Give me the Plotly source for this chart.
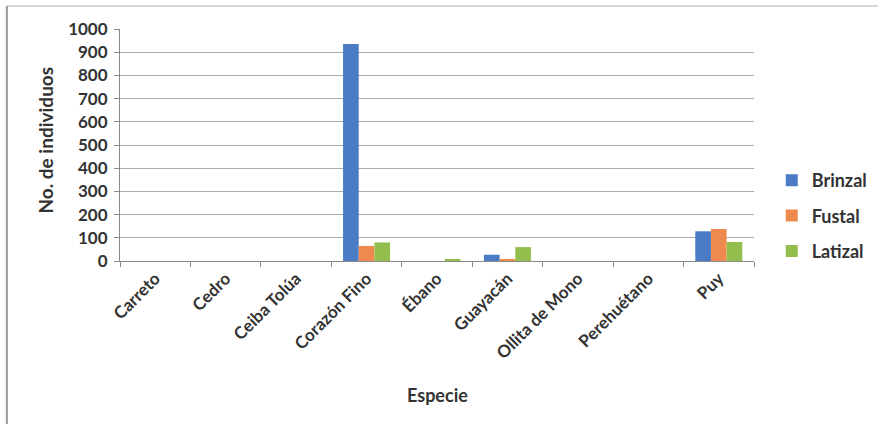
import plotly.graph_objects as go

categories = ["Carreto", "Cedro", "Ceiba Tolúa", "Corazón Fino", "Ébano",
              "Guayacán", "Ollita de Mono", "Perehuétano", "Puy"]
brinzal = [0, 0, 0, 935, 0, 27, 0, 0, 128]
fustal = [0, 0, 0, 65, 0, 5, 0, 0, 138]
latizal = [0, 0, 0, 80, 5, 60, 0, 0, 82]
y_ticks = [0, 100, 200, 300, 400, 500, 600, 700, 800, 900, 1000]

colors = {"Brinzal": "#4A7BC4", "Fustal": "#EE8A4E", "Latizal": "#93BE4E"}
FONT = "Lato"
TXT = "#333333"
FS = 17

fig = go.Figure()
for name, vals in [("Brinzal", brinzal), ("Fustal", fustal), ("Latizal", latizal)]:
    fig.add_trace(go.Bar(x=categories, y=vals, name=name, legendgroup=name,
                         marker=dict(color=colors[name], line=dict(width=0))))

fig.update_layout(
    width=884, height=424,
    margin=dict(l=120, r=125, t=29, b=163),
    paper_bgcolor="white", plot_bgcolor="white",
    barmode="group", bargap=0.333, bargroupgap=0,
    font=dict(family=FONT, size=FS, color=TXT),
    showlegend=True,
    legend=dict(x=1.028, xanchor="left", y=0.194, yanchor="middle",
                font=dict(family=FONT, size=18, color=TXT, weight="bold"),
                tracegroupgap=9, itemsizing="constant",
                bgcolor="rgba(0,0,0,0)"),
    xaxis=dict(showline=True, linecolor="#8a8a8a", linewidth=1,
               ticks="outside", tickson="boundaries", ticklen=5, tickcolor="#8a8a8a",
               tickangle=-45,
               tickfont=dict(family=FONT, size=FS, color=TXT, weight="bold"),
               showgrid=False, fixedrange=True),
    yaxis=dict(range=[0, 1000], tickvals=y_ticks, showline=True, linecolor="#8a8a8a",
               linewidth=1, ticks="outside", ticklen=5, tickcolor="#8a8a8a",
               ticklabelstandoff=3,
               showgrid=True, gridcolor="#ababab", gridwidth=1, zeroline=False,
               tickfont=dict(family=FONT, size=FS, color=TXT, weight="bold"),
               fixedrange=True),
    annotations=[
        dict(text="No. de individuos", xref="paper", yref="paper",
             x=(44 - 120) / 639, y=(261 - 140) / 232, textangle=-90,
             showarrow=False, xanchor="center", yanchor="middle",
             font=dict(family=FONT, size=19, color=TXT, weight="bold")),
        dict(text="Especie", xref="paper", yref="paper",
             x=(440 - 120) / 639, y=(261 - 395) / 232,
             showarrow=False, xanchor="center", yanchor="middle",
             font=dict(family=FONT, size=18, color=TXT, weight="bold")),
    ],
    shapes=[
        dict(type="line", xref="paper", yref="paper",
             x0=(6 - 120) / 639, x1=(6 - 120) / 639,
             y0=(261 - 6) / 232, y1=(261 - 424) / 232,
             line=dict(color="#9a9a9a", width=2)),
        dict(type="line", xref="paper", yref="paper",
             x0=(6 - 120) / 639, x1=(884 - 120) / 639,
             y0=(261 - 6) / 232, y1=(261 - 6) / 232,
             line=dict(color="#b0b0b0", width=1)),
    ],
)

fig.write_html("out.html")
